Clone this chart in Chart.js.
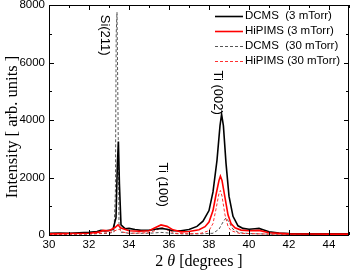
<!DOCTYPE html>
<html>
<head>
<meta charset="utf-8">
<script src="https://cdn.jsdelivr.net/npm/chart.js@4/dist/chart.umd.min.js"></script>
<style>
  html, body { margin: 0; padding: 0; background: #fff; }
  #wrap { width: 350px; height: 273px; position: relative; }
</style>
</head>
<body>
<div id="wrap"><canvas id="xrd"></canvas></div>
<script>
// 2theta (deg) and intensity (arb. units)
const dcms3X = [30, 30.5, 31, 31.5, 32, 32.4, 32.6, 32.8, 33.0, 33.2, 33.35, 33.42, 33.47, 33.52, 33.6, 33.8, 34.0, 34.3, 34.6, 35.0, 35.3, 35.6, 35.9, 36.2, 36.6, 37.0, 37.4, 37.7, 38.0, 38.2, 38.4, 38.55, 38.63, 38.72, 38.85, 39.0, 39.2, 39.45, 39.7, 40.0, 40.3, 40.5, 40.7, 41.0, 41.5, 42, 43, 44, 45];
const dcms3Y = [60, 70, 60, 80, 90, 120, 160, 140, 160, 200, 600, 2500, 3250, 1800, 350, 220, 230, 190, 160, 160, 200, 230, 200, 150, 150, 190, 300, 480, 850, 1500, 2600, 3800, 4200, 3800, 2500, 1350, 650, 320, 230, 200, 220, 230, 180, 110, 70, 50, 40, 40, 40];

const hipims3X = [30, 31, 32, 32.5, 32.7, 33.0, 33.3, 33.45, 33.6, 34.0, 34.5, 35.0, 35.3, 35.6, 35.9, 36.2, 36.6, 37.0, 37.5, 37.8, 38.0, 38.2, 38.35, 38.5, 38.57, 38.65, 38.8, 38.95, 39.1, 39.3, 39.6, 40.0, 40.5, 41.0, 42, 43, 44, 45];
const hipims3Y = [40, 50, 60, 100, 160, 150, 260, 350, 240, 150, 130, 150, 250, 350, 300, 180, 110, 120, 180, 290, 450, 850, 1400, 1900, 2050, 1900, 1300, 700, 400, 250, 170, 150, 160, 80, 40, 35, 30, 30];

const dcms30X = [30, 31, 32, 32.6, 33.0, 33.25, 33.32, 33.36, 33.4, 33.44, 33.5, 33.6, 34.0, 35.0, 35.6, 36.5, 37.5, 38.2, 38.5, 38.7, 38.85, 39.0, 39.2, 39.5, 40.0, 41.0, 42, 45];
const dcms30Y = [20, 25, 30, 50, 60, 100, 1500, 7000, 7750, 5000, 400, 100, 60, 60, 90, 40, 40, 60, 200, 450, 600, 450, 200, 80, 50, 30, 20, 20];

const hipims30X = [30, 31, 32, 32.6, 33.0, 33.3, 33.5, 33.7, 34.0, 35.0, 35.4, 35.65, 35.9, 36.3, 37.0, 37.6, 38.0, 38.2, 38.35, 38.5, 38.57, 38.65, 38.8, 38.95, 39.1, 39.5, 40.0, 41.0, 45];
const hipims30Y = [20, 30, 40, 60, 80, 150, 200, 100, 60, 80, 180, 260, 180, 60, 40, 60, 150, 400, 900, 1450, 1550, 1350, 700, 300, 150, 60, 50, 30, 20];

const seriesNames = ["DCMS  (3 mTorr)", "HiPIMS (3 mTorr)", "DCMS  (30 mTorr)", "HiPIMS (30 mTorr)"];
const xTicks = [30, 32, 34, 36, 38, 40, 42, 44];
const yTicks = [0, 2000, 4000, 6000, 8000];
const peakLabels = ["Si(211)", "Ti (100)", "Ti (002)"];
const peakAt = [[32.8, 6950], [35.7, 1750], [38.45, 4950]];

const toPoints = (xs, ys) => xs.map((x, i) => ({ x, y: ys[i] }));

const SANS = "'Liberation Sans', Arial, sans-serif";
const SERIF = "'Liberation Serif', 'Times New Roman', serif";

const styles = [
  { color: "#000000", width: 1.6, dash: [] },
  { color: "#ff0000", width: 1.6, dash: [] },
  { color: "#555555", width: 1, dash: [3, 2] },
  { color: "#ff3030", width: 1, dash: [3, 2] },
];

const datasets = [
  toPoints(dcms3X, dcms3Y),
  toPoints(hipims3X, hipims3Y),
  toPoints(dcms30X, dcms30Y),
  toPoints(hipims30X, hipims30Y),
].map((pts, i) => ({
  label: seriesNames[i],
  data: pts,
  borderColor: styles[i].color,
  borderWidth: styles[i].width,
  borderDash: styles[i].dash,
  pointRadius: 0,
  fill: false,
  tension: 0,
}));
// draw solid curves on top of dashed ones
datasets[0].order = 1; datasets[1].order = 0;
datasets[2].order = 3; datasets[3].order = 2;

const decorations = {
  id: "decorations",
  afterDatasetsDraw(chart) {
    const { ctx, chartArea: a, scales: { x, y } } = chart;
    ctx.save();
    // frame
    ctx.strokeStyle = "#000";
    ctx.lineWidth = 1;
    ctx.setLineDash([]);
    ctx.strokeRect(a.left + 0.5, a.top + 0.5, a.right - a.left - 1, a.bottom - a.top);
    // inward ticks on all four sides
    ctx.beginPath();
    for (let v = 30; v <= 45; v += 1) {
      const px = Math.round(x.getPixelForValue(v)) + 0.5;
      const len = v % 2 === 0 ? 5 : 3;
      ctx.moveTo(px, a.bottom); ctx.lineTo(px, a.bottom - len);
      ctx.moveTo(px, a.top); ctx.lineTo(px, a.top + len);
    }
    for (let v = 0; v <= 8000; v += 1000) {
      const py = Math.round(y.getPixelForValue(v)) + 0.5;
      const len = v % 2000 === 0 ? 5 : 3;
      ctx.moveTo(a.left, py); ctx.lineTo(a.left + len, py);
      ctx.moveTo(a.right, py); ctx.lineTo(a.right - len, py);
    }
    ctx.stroke();

    // peak labels, rotated
    ctx.fillStyle = "#000";
    ctx.font = "13px " + SANS;
    ctx.textAlign = "center";
    ctx.textBaseline = "middle";
    peakLabels.forEach((t, i) => {
      ctx.save();
      ctx.translate(x.getPixelForValue(peakAt[i][0]), y.getPixelForValue(peakAt[i][1]));
      ctx.rotate(Math.PI / 2);
      ctx.fillText(t, 0, 0);
      ctx.restore();
    });

    // legend
    ctx.font = "11.5px " + SANS;
    ctx.textAlign = "left";
    const rows = [16, 31, 46, 61];
    datasets.forEach((d, i) => {
      ctx.beginPath();
      ctx.strokeStyle = styles[i].color;
      ctx.lineWidth = styles[i].width;
      ctx.setLineDash(styles[i].dash);
      ctx.moveTo(215, rows[i] + 0.5);
      ctx.lineTo(243, rows[i] + 0.5);
      ctx.stroke();
      ctx.fillStyle = "#000";
      ctx.fillText(d.label, 245, rows[i]);
    });
    ctx.setLineDash([]);

    // axis titles
    ctx.textBaseline = "middle";
    const parts = [["2 ", "16px " + SERIF], ["\u03b8", "italic 16px " + SERIF], [" [degrees ]", "16px " + SERIF]];
    let w = 0;
    parts.forEach(p => { ctx.font = p[1]; w += ctx.measureText(p[0]).width; });
    let cx = (a.left + a.right) / 2 - w / 2;
    parts.forEach(p => {
      ctx.font = p[1];
      ctx.fillText(p[0], cx, 262);
      cx += ctx.measureText(p[0]).width;
    });
    ctx.save();
    ctx.font = "16.5px " + SERIF;
    ctx.textAlign = "center";
    ctx.translate(13, 127);
    ctx.rotate(-Math.PI / 2);
    ctx.fillText("Intensity [ arb. units ]", 0, 0);
    ctx.restore();
    ctx.restore();
  },
};

new Chart(document.getElementById("xrd"), {
  type: "line",
  data: { datasets },
  options: {
    responsive: true,
    maintainAspectRatio: false,
    animation: false,
    layout: { padding: { top: 5, right: 1, left: 0, bottom: 0 } },
    plugins: { legend: { display: false }, tooltip: { enabled: false } },
    scales: {
      x: {
        type: "linear",
        min: 30,
        max: 45,
        grid: { display: false, drawTicks: false },
        border: { display: false },
        afterBuildTicks: s => { s.ticks = xTicks.map(value => ({ value })); },
        afterFit: s => { s.height = 38; s.paddingLeft = 0; s.paddingRight = 0; },
        ticks: { color: "#000", font: { family: SANS, size: 11.5 }, padding: 3, maxRotation: 0 },
      },
      y: {
        min: 0,
        max: 8000,
        grid: { display: false, drawTicks: false },
        border: { display: false },
        afterBuildTicks: s => { s.ticks = yTicks.map(value => ({ value })); },
        afterFit: s => { s.width = 49; s.paddingTop = 0; s.paddingBottom = 0; },
        ticks: { color: "#000", font: { family: SANS, size: 11.5 }, padding: 4, callback: v => String(v) },
      },
    },
  },
  plugins: [decorations],
});
</script>
</body>
</html>
